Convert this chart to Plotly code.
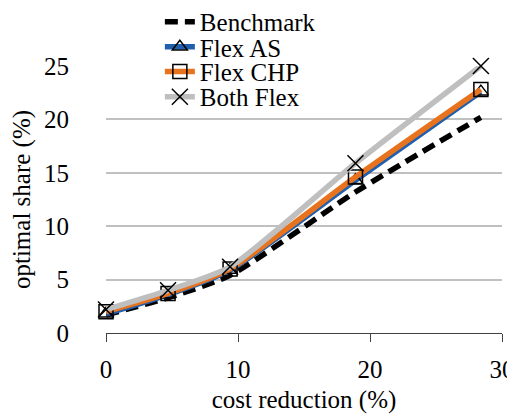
import plotly.graph_objects as go

# cost reduction (%) on x, optimal share (%) on y
cost_reduction = [0, 4.7, 9.4, 18.9, 28.4]
benchmark = [1.7, 3.3, 5.4, 13.2, 20.2]
flex_as = [1.8, 3.6, 5.9, 14.3, 22.6]
flex_chp = [2.0, 3.7, 6.0, 14.6, 22.8]
both_flex = [2.2, 4.0, 6.2, 15.9, 25.0]

FONT = 'Liberation Serif'
FS = 25

def serif():
    return dict(family=FONT, size=FS, color='black')

fig = go.Figure()
fig.add_trace(go.Scatter(x=cost_reduction, y=benchmark, name='Benchmark', mode='lines', legend='legend',
                         line=dict(color='black', width=5.5, dash='13px,7px', shape='spline', smoothing=0.6)))
fig.add_trace(go.Scatter(x=cost_reduction, y=flex_as, name='Flex AS', mode='lines+markers', legend='legend2',
                         line=dict(color='#1F5FAD', width=5.5, shape='spline', smoothing=0.6),
                         marker=dict(symbol='triangle-up-open', color='black', size=13, line=dict(width=1.5))))
fig.add_trace(go.Scatter(x=cost_reduction, y=flex_chp, name='Flex CHP', mode='lines+markers', legend='legend3',
                         line=dict(color='#E8731E', width=5.5, shape='spline', smoothing=0.6),
                         marker=dict(symbol='square-open', color='black', size=14, line=dict(width=1.5))))
fig.add_trace(go.Scatter(x=cost_reduction, y=both_flex, name='Both Flex', mode='lines+markers', legend='legend4',
                         line=dict(color='#BFBFBF', width=5.5, shape='spline', smoothing=0.6),
                         marker=dict(symbol='x-thin-open', color='black', size=16, line=dict(width=1.5))))

fig.update_traces(cliponaxis=False)

# one legend per entry so the rows can sit as close as in the original
leg = dict(x=0.136, xanchor='left', yanchor='middle', bgcolor='rgba(0,0,0,0)', font=serif())
fig.update_layout(
    width=507, height=409,
    margin=dict(l=98, r=13, t=58, b=84, autoexpand=False),
    plot_bgcolor='white', paper_bgcolor='white',
    showlegend=True,
    legend=dict(leg, y=1.165),
    legend2=dict(leg, y=1.071),
    legend3=dict(leg, y=0.978),
    legend4=dict(leg, y=0.884),
    # white legend box hiding most of the top gridline
    shapes=[dict(type='rect', xref='paper', yref='paper', x0=0.02, x1=0.63, y0=0.97, y1=1.2,
                 fillcolor='white', line=dict(width=0), layer='between')],
)
fig.update_xaxes(range=[0, 30], tickvals=[0, 10, 20, 30], showgrid=False,
                 showline=True, linecolor='#404040', linewidth=1.2,
                 ticks='outside', ticklen=8, tickcolor='#404040', ticklabelstandoff=6,
                 tickfont=serif(), automargin=False, zeroline=False,
                 title=dict(text='cost reduction (%)', standoff=8, font=serif()))
fig.update_yaxes(range=[0, 25], tickvals=[0, 5, 10, 15, 20, 25], showgrid=True,
                 gridcolor='#C0C0C0', gridwidth=1.5, showline=False, zeroline=False,
                 ticks='outside', ticklen=7, tickcolor='rgba(0,0,0,0)',
                 ticklabelstandoff=24, tickfont=serif(), automargin=False,
                 title=dict(text='optimal share (%)', standoff=22, font=serif()))

fig.write_html("out.html")
